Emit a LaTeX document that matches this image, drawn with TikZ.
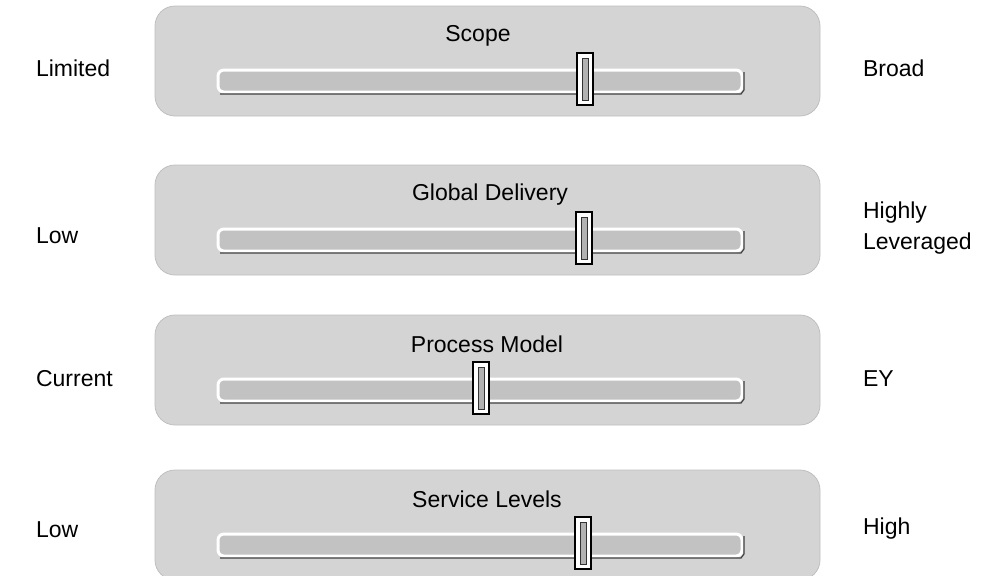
\documentclass[tikz,border=0pt]{standalone}
\usepackage{fontspec}
\setmainfont{Liberation Sans}
\usetikzlibrary{calc}
\def\sliderpanel(#1)(#2){%
	\draw[fill=black!17, draw=black!25, rounded corners=10] (155, #1) rectangle (820, #1+110);
	\draw[fill=black!24, draw=white, line width=1.5pt, rounded corners=3] (218, #1+64) rectangle (742, #1+86);
	\draw[black!75, line width=0.6pt] (220, #1+88) -- (741, #1+88) -- (744, #1+84) -- (744, #1+66);
	\draw[fill=white, line width=1pt] (#2, #1+47) rectangle (#2+16, #1+99);
	\draw[fill=black!30, draw=black!80, line width=0.5pt] (#2+5, #1+52) rectangle (#2+11, #1+94);
}

\begin{document}
\begin{tikzpicture}[x=0.5pt, y=-0.5pt, font=\fontsize{11.5}{13.5}\selectfont]
		%%%%% START %%%%%
		\useasboundingbox (0, 0) rectangle (987, 575);
		\clip (0, 0) rectangle (987, 575);
		
		\sliderpanel(6)(577)
		\node (tscope) at (478, 36) {Scope};
		\node[anchor=west] (limited) at (29, 68) {Limited};
		\node[anchor=west] (broad) at (856, 68) {Broad};
		
		\sliderpanel(165)(576)
		\node (tglobal) at (490, 195) {Global Delivery};
		\node[anchor=west] (lowglobal) at (29, 236) {Low};
		\node[anchor=west, align=left] (leveraged) at (856, 228) {Highly\\[2pt]Leveraged};
		
		\sliderpanel(315)(473)
		\node (tprocess) at (487, 344) {Process Model};
		\node[anchor=west] (current) at (29, 379) {Current};
		\node[anchor=west] (ey) at (856, 379) {EY};
		
		\sliderpanel(470)(575)
		\node (tservice) at (487, 499) {Service Levels};
		\node[anchor=west] (lowservice) at (29, 530) {Low};
		\node[anchor=west] (high) at (856, 529) {High};
		%%%%% END %%%%%
\end{tikzpicture}
\end{document}
